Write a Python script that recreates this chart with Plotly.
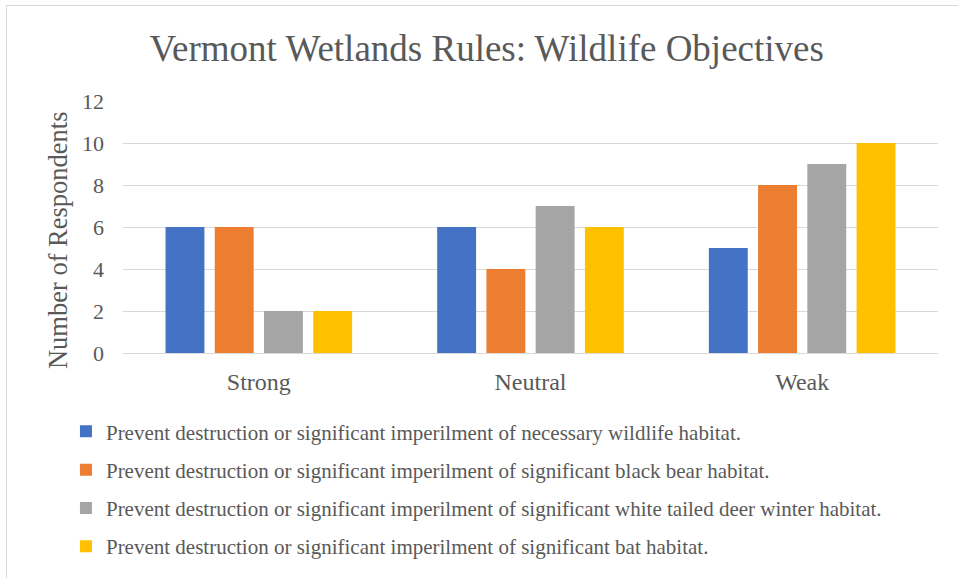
import plotly.graph_objects as go

categories = ["Strong", "Neutral", "Weak"]
series_names = [
    "Prevent destruction or significant imperilment of necessary wildlife habitat.",
    "Prevent destruction or significant imperilment of significant black bear habitat.",
    "Prevent destruction or significant imperilment of significant white tailed deer winter habitat.",
    "Prevent destruction or significant imperilment of significant bat habitat.",
]
wildlife_habitat = [6, 6, 5]
black_bear = [6, 4, 8]
deer_winter = [2, 7, 9]
bat_habitat = [2, 6, 10]
series_values = [wildlife_habitat, black_bear, deer_winter, bat_habitat]
colors = ["#4472C4", "#ED7D31", "#A5A5A5", "#FFC000"]
y_ticks = [0, 2, 4, 6, 8, 10, 12]

FONT = "Liberation Serif, Times New Roman, serif"
TEXT = "#595959"

fig = go.Figure()
for i, (name, vals, col) in enumerate(zip(series_names, series_values, colors)):
    fig.add_trace(go.Bar(
        x=categories, y=vals, name=name, marker_color=col,
        marker_line_width=0, legendgroup=f"g{i}",
    ))

fig.update_layout(
    width=958, height=578,
    margin=dict(l=123, r=20, t=101, b=225, autoexpand=False),
    paper_bgcolor="white", plot_bgcolor="white",
    barmode="group", bargap=0.275, bargroupgap=0.21,
    font=dict(family=FONT, color=TEXT),
    title=dict(text="Vermont Wetlands Rules: Wildlife Objectives",
               x=0.508, xanchor="center", y=0.917, yanchor="middle",
               font=dict(size=37, color=TEXT, family=FONT)),
    xaxis=dict(showgrid=False, showline=False, ticks="", automargin=False,
               ticklabelstandoff=12,
               tickfont=dict(size=24, color=TEXT, family=FONT)),
    yaxis=dict(range=[0, 12], tickvals=y_ticks, showgrid=True, automargin=False,
               gridcolor="#D9D9D9", gridwidth=1, zeroline=True,
               zerolinecolor="#D9D9D9", zerolinewidth=1, ticks="",
               ticklen=0, ticklabelstandoff=18,
               tickfont=dict(size=22, color=TEXT, family=FONT)),
    legend=dict(orientation="v", x=-0.07, xanchor="left", y=-0.231, yanchor="top",
                font=dict(size=21, color=TEXT, family=FONT),
                tracegroupgap=8, itemwidth=30, bgcolor="rgba(0,0,0,0)"),
    annotations=[dict(text="Number of Respondents", textangle=-90,
                      xref="paper", yref="paper", x=-0.0798, y=0.448,
                      xanchor="center", yanchor="middle", showarrow=False,
                      font=dict(size=26.5, color=TEXT, family=FONT))],
    shapes=[dict(type="rect", xref="paper", yref="paper",
                 x0=-0.143, x1=1.1, y0=-1.0, y1=1.379,
                 line=dict(color="#D9D9D9", width=1), layer="below")],
)

fig.write_html("out.html")
